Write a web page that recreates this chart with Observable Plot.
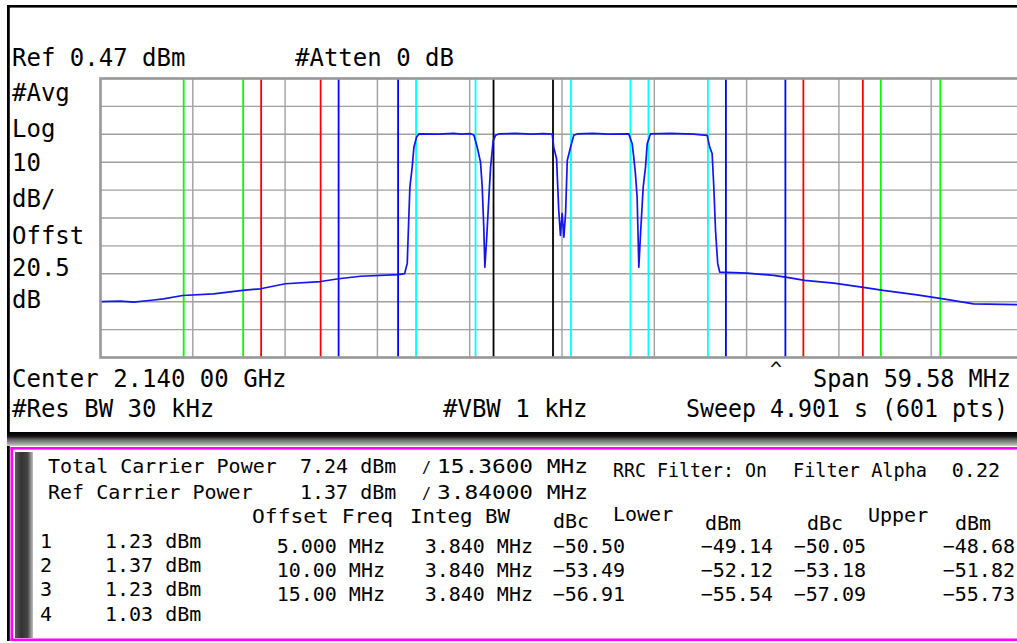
<!DOCTYPE html>
<html>
<head>
<meta charset="utf-8">
<script src="https://cdn.jsdelivr.net/npm/d3@7"></script>
<script src="https://cdn.jsdelivr.net/npm/@observablehq/plot@0.6"></script>
<style>
  html, body { margin: 0; padding: 0; background: #fff; overflow: hidden; }
  #wrap { position: relative; width: 1017px; height: 643px; overflow: hidden; background: #fff; }
  #chart { position: absolute; left: 0; top: 0; width: 1030px; }
  #chart svg { max-width: none !important; }
  #overlay { position: absolute; left: 0; top: 0; }
</style>
</head>
<body>
<div id="wrap">
  <div id="chart"></div>
  <svg id="overlay" width="1017" height="643"></svg>
</div>
<script>
// ---------------- data ----------------
const refLevelDbm = 0.47;
const dbPerDiv = 10;
const numDivs = 10;
const spanMHz = 59.58;
const centerLabel = "2.140 00 GHz";
const attenDb = 0;
const offsetDb = 20.5;
const resBwLabel = "30 kHz";
const vbwLabel = "1 kHz";
const sweepLabel = "4.901 s (601 pts)";

const carrierOffsetsMHz = [-7.5, -2.5, 2.5, 7.5];
const carrierNames = ["1", "2", "3", "4"];
const carrierPowersDbm = [1.23, 1.37, 1.23, 1.03];
const integBwMHz = 3.84;
const filterAlpha = 0.22;

const adjOffsetsMHz = [5, 10, 15];
const adjColors = ["#0000ff", "#ff0000", "#00ff00"];
const lowerDbc = [-50.50, -53.49, -56.91];
const lowerDbm = [-49.14, -52.12, -55.54];
const upperDbc = [-50.05, -53.18, -57.09];
const upperDbm = [-48.68, -51.82, -55.73];

const traceFreqMHz = [
  -29.78, -28.5, -27.65, -26.5, -25.72, -24.49, -22.49, -20.62, -19.46, -17.85,
  -15.58, -14.42, -13.0, -10.55, -10.16, -9.99, -9.82, -9.67, -9.56, -9.39,
  -9.24, -8.0, -7.0, -6.5, -5.9, -5.69, -5.47, -5.26, -5.15, -5.05,
  -4.98, -4.87, -4.72, -4.61, -4.44, -4.29, -4.08, -3.0, -2.0, -1.2,
  -0.63, -0.53, -0.35, -0.21, -0.10, 0.01, 0.12, 0.23, 0.34, 0.55,
  0.76, 0.98, 2.0, 3.0, 4.31, 4.53, 4.63, 4.74, 4.85, 4.96,
  5.07, 5.24, 5.39, 5.50, 5.71, 7.0, 8.5, 9.37, 9.54, 9.69,
  9.80, 9.91, 10.05, 10.18, 11.95, 13.67, 14.53, 15.67, 17.54, 19.57,
  20.73, 22.92, 24.60, 26.57, 29.39, 29.78
];
const traceLevelDbm = [
  -79.5, -79.3, -79.7, -79.0, -78.5, -77.3, -76.7, -75.5, -74.9, -73.1,
  -72.3, -71.3, -70.4, -69.8, -69.5, -65.8, -38.5, -31.3, -24.2, -20.6,
  -19.4, -19.5, -19.2, -19.5, -19.3, -19.8, -24.2, -29.5, -38.5, -52.8,
  -67.2, -57.6, -42.1, -31.3, -21.8, -19.9, -19.4, -19.2, -19.5, -19.3,
  -19.5, -24.2, -28.3, -46.8, -55.8, -47.9, -56.4, -47.9, -28.9, -24.2,
  -19.9, -19.4, -19.2, -19.5, -19.4, -22.9, -27.7, -33.7, -42.1, -67.2,
  -55.2, -38.5, -31.3, -22.9, -19.4, -19.2, -19.5, -19.9, -24.2, -26.4,
  -38.5, -54.0, -65.8, -68.9, -69.3, -70.1, -70.8, -71.9, -72.9, -74.5,
  -75.5, -77.1, -78.5, -80.3, -80.6, -80.5
];

// ---------------- derived tables ----------------
const trace = traceFreqMHz.map((f, i) => ({f, dBm: traceLevelDbm[i]}));
const refIdx = carrierPowersDbm.indexOf(d3.max(carrierPowersDbm));
const edges = [];
carrierOffsetsMHz.forEach((c, i) => {
  const color = i === refIdx ? "#000000" : "#00ffff";
  edges.push({f: c - integBwMHz / 2, color}, {f: c + integBwMHz / 2, color});
});
const lowestC = d3.min(carrierOffsetsMHz), highestC = d3.max(carrierOffsetsMHz);
adjOffsetsMHz.forEach((o, i) => {
  for (const c of [lowestC - o, highestC + o]) {
    edges.push({f: c - integBwMHz / 2, color: adjColors[i]}, {f: c + integBwMHz / 2, color: adjColors[i]});
  }
});
const gridX = d3.range(numDivs + 1).map(k => -spanMHz / 2 + k * spanMHz / numDivs);
const gridY = d3.range(numDivs + 1).map(k => refLevelDbm - k * dbPerDiv);
const totalPowerDbm = 10 * Math.log10(d3.sum(carrierPowersDbm, p => Math.pow(10, p / 10)));

// ---------------- chart ----------------
const chart = Plot.plot({
  width: 1030,
  height: 362,
  marginLeft: 100,
  marginRight: 7,
  marginTop: 78,
  marginBottom: 5,
  x: {domain: [-spanMHz / 2, spanMHz / 2], axis: null},
  y: {domain: [refLevelDbm - numDivs * dbPerDiv, refLevelDbm], axis: null},
  color: {type: "identity"},
  style: {background: "transparent", overflow: "visible", maxWidth: "none"},
  marks: [
    Plot.ruleX(gridX, {stroke: "#a0a0a0", strokeWidth: 1.4}),
    Plot.ruleY(gridY, {stroke: "#a0a0a0", strokeWidth: 1.4}),
    Plot.ruleX(edges, {x: "f", stroke: "color", strokeWidth: 1.8}),
    Plot.line(trace, {x: "f", y: "dBm", stroke: "#1414f0", strokeWidth: 1.7}),
    Plot.frame({stroke: "#9a9a9a", strokeWidth: 2.6})
  ]
});
document.getElementById("chart").appendChild(chart);

// ---------------- screen frame & readouts ----------------
const svg = d3.select("#overlay");
const defs = svg.append("defs");
const g1 = defs.append("linearGradient").attr("id", "sep").attr("x1", 0).attr("x2", 0).attr("y1", 0).attr("y2", 1);
[[0, "#000"], [0.3, "#111"], [0.55, "#666"], [0.8, "#999"], [1, "#d0d0d0"]].forEach(([o, c]) =>
  g1.append("stop").attr("offset", o).attr("stop-color", c));
const g2 = defs.append("linearGradient").attr("id", "bar").attr("x1", 0).attr("x2", 1).attr("y1", 0).attr("y2", 0);
[[0, "#5a5a5a"], [0.35, "#333"], [0.7, "#444"], [1, "#c0c0c0"]].forEach(([o, c]) =>
  g2.append("stop").attr("offset", o).attr("stop-color", c));

svg.append("rect").attr("x", 7).attr("y", 5).attr("width", 1020).attr("height", 2.6).attr("fill", "#000");
svg.append("rect").attr("x", 7).attr("y", 5).attr("width", 2.8).attr("height", 636).attr("fill", "#000");
svg.append("rect").attr("x", 7).attr("y", 432).attr("width", 1020).attr("height", 14).attr("fill", "url(#sep)");
svg.append("rect").attr("x", 10.5).attr("y", 447).attr("width", 1020).attr("height", 2.6).attr("fill", "#ff00ff");
svg.append("rect").attr("x", 10.5).attr("y", 447).attr("width", 2.6).attr("height", 194).attr("fill", "#ff00ff");
svg.append("rect").attr("x", 10.5).attr("y", 638.5).attr("width", 1020).attr("height", 2.6).attr("fill", "#ff00ff");
svg.append("rect").attr("x", 15).attr("y", 452).attr("width", 18).attr("height", 186).attr("fill", "url(#bar)");

const FONT = "'DejaVu Sans Mono', 'Liberation Mono', monospace";
function label(txt, x, y, size, anchor, len) {
  const t = svg.append("text").attr("x", x).attr("y", y)
    .attr("font-family", FONT).attr("font-size", size)
    .attr("fill", "#000").attr("text-anchor", anchor || "start")
    .text(txt);
  if (len) t.attr("textLength", len).attr("lengthAdjust", "spacingAndGlyphs");
}
const fmt2 = d3.format(".2f");
const fmt4r = d3.format(".4r");
const fmt6r = d3.format(".6r");

// upper screen annotations (24px)
label(`Ref ${fmt2(refLevelDbm)} dBm`, 12, 66, 24);
label(`#Atten ${attenDb} dB`, 295, 66, 24);
const sideLabels = ["#Avg", "Log", String(dbPerDiv), "dB/", "Offst", String(offsetDb), "dB"];
const sideY = [101, 137, 171, 207, 244, 276, 308];
sideLabels.forEach((t, i) => label(t, 12, sideY[i], 24));
label(`Center ${centerLabel}`, 12, 387, 24);
label(`Span ${fmt2(spanMHz)} MHz`, 813, 387, 24, "start", 198);
label("^", 770, 376, 20);
label(`#Res BW ${resBwLabel}`, 12, 417, 24);
label(`#VBW ${vbwLabel}`, 443, 417, 24);
label(`Sweep ${sweepLabel}`, 686, 417, 24, "start", 322);

// lower measurement panel (20px)
const S = 20;
label("Total Carrier Power", 48, 473, S);
label(`${fmt2(totalPowerDbm)} dBm`, 300, 473, S);
label("/", 422, 473, 15);
label(`${fmt6r(integBwMHz * carrierOffsetsMHz.length)} MHz`, 437, 473, S, "start", 151);
label("Ref Carrier Power", 48, 499, S);
label(`${fmt2(carrierPowersDbm[refIdx])} dBm`, 300, 499, S);
label("/", 422, 499, 15);
label(`${fmt6r(integBwMHz)} MHz`, 437, 499, S, "start", 151);
label("RRC Filter: On", 613, 477, S, "start", 154);
label("Filter Alpha", 793, 477, S, "start", 134);
label(fmt2(filterAlpha), 1000, 477, S, "end");

label("Offset Freq", 252, 523, S, "start", 141);
label("Integ BW", 410, 523, S, "start", 100);
label("dBc", 553, 528, S);
label("Lower", 613, 521, S);
label("dBm", 705, 530, S);
label("dBc", 807, 530, S);
label("Upper", 868, 522, S);
label("dBm", 955, 530, S);

const leftRowY = [548, 572, 596, 621];
carrierNames.forEach((n, i) => {
  label(n, 40, leftRowY[i], S);
  label(`${fmt2(carrierPowersDbm[i])} dBm`, 105, leftRowY[i], S);
});
const offRowY = [553, 577, 601];
adjOffsetsMHz.forEach((o, i) => {
  const y = offRowY[i];
  label(`${fmt4r(o)} MHz`, 385, y, S, "end");
  label(`${fmt4r(integBwMHz)} MHz`, 533, y, S, "end");
  label(fmt2(lowerDbc[i]), 625, y, S, "end");
  label(fmt2(lowerDbm[i]), 773, y, S, "end");
  label(fmt2(upperDbc[i]), 866, y, S, "end");
  label(fmt2(upperDbm[i]), 1015, y, S, "end");
});
</script>
</body>
</html>
